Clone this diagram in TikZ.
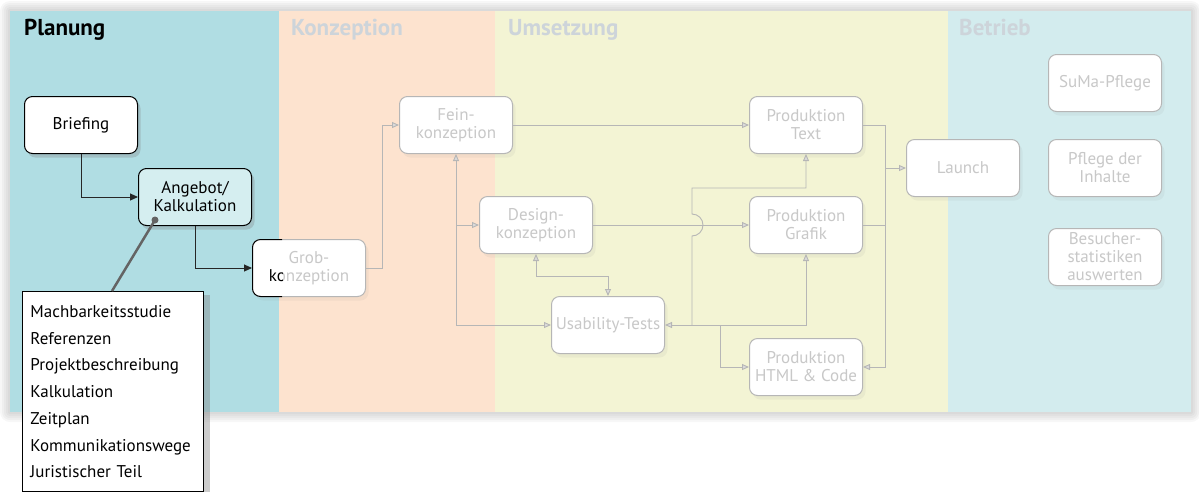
\documentclass[tikz,border=0pt]{standalone}
\usepackage{fontspec}
\setmainfont{PT Sans}
\usetikzlibrary{arrows.meta,shadows}
\definecolor{planbg}{RGB}{176,221,227}
\definecolor{konzbg}{RGB}{253,227,207}
\definecolor{umsbg}{RGB}{243,244,212}
\definecolor{betrbg}{RGB}{211,236,238}
\definecolor{angfill}{RGB}{213,238,240}
\definecolor{fadetext}{RGB}{200,200,200}
\definecolor{fadeline}{RGB}{182,182,182}
\definecolor{fadetitle}{RGB}{205,212,218}
\definecolor{arrowfill}{RGB}{218,218,218}
\definecolor{pincol}{RGB}{100,100,100}
\tikzset{ftip/.tip={Triangle[length=7pt,width=6pt,fill=arrowfill]}}

\begin{document}
\begin{tikzpicture}[x=1pt,y=-1pt,
	box/.style={rounded corners=8pt,minimum width=113pt,minimum height=57pt,align=center,inner sep=2pt,fill=white,font=\fontsize{17}{18}\selectfont},
	dbox/.style={box,draw=black,line width=1pt,text=black,drop shadow={opacity=0.3,shadow xshift=3pt,shadow yshift=-4pt}},
	fbox/.style={box,draw=fadeline,line width=1pt,text=fadetext,drop shadow={opacity=0.08,shadow xshift=3pt,shadow yshift=-4pt}},
	title/.style={anchor=base west,inner sep=0pt,font=\fontsize{23}{25}\selectfont\bfseries},
	darr/.style={draw=black!85,line width=1pt,-{Triangle[length=8pt,width=7pt]}},
	flink/.style={draw=fadeline,line width=0.9pt}]
	\useasboundingbox (0,0) rectangle (1199,491);
	\foreach \g in {2,4,...,10}
		\fill[black,opacity=0.03,rounded corners=\g pt] (10-\g,11-\g) rectangle (1191+\g,412+\g);
	\fill[planbg] (10,11) rectangle (279,412);
	\fill[konzbg] (279,11) rectangle (495,412);
	\fill[umsbg] (495,11) rectangle (948,412);
	\fill[betrbg] (948,11) rectangle (1191,412);
	\node[title] (tplan) at (24,35) {Planung};
	\node[title,text=fadetitle] (tkonz) at (291,35) {Konzeption};
	\node[title,text=fadetitle] (tums) at (508,35) {Umsetzung};
	\node[title,text=fadetitle] (tbetr) at (959,35) {Betrieb};

	\node[dbox] (brief) at (81,125) {Briefing};
	\node[dbox,fill=angfill] (ang) at (195,197) {Angebot/\\Kalkulation};
	\node[fbox] (grob) at (309,268) {Grob-\\konzeption};
	\begin{scope}
		\clip (10,11) rectangle (282,412);
		\node[box,draw=black,line width=1pt,text=black] at (grob) {Grob-\\konzeption};
	\end{scope}
	\node[fbox] (fein) at (456,125) {Fein-\\konzeption};
	\node[fbox] (design) at (536,225) {Design-\\konzeption};
	\node[fbox] (usab) at (608,325) {Usability-Tests};
	\node[fbox] (ptext) at (806,125) {Produktion\\Text};
	\node[fbox] (pgrafik) at (806,225) {Produktion\\Grafik};
	\node[fbox] (phtml) at (806,367) {Produktion\\HTML \& Code};
	\node[fbox] (launch) at (963,168) {Launch};
	\node[fbox] (suma) at (1105,83) {SuMa-Pflege};
	\node[fbox] (pflege) at (1105,168) {Pflege der\\Inhalte};
	\node[fbox] (stats) at (1105,257) {Besucher-\\statistiken\\auswerten};

	\draw[darr] (brief.south) |- (ang.west);
	\draw[darr] (ang.south) |- (grob.west);

	\draw[flink,-ftip] (grob.east) -- ++(16,0) |- (fein.west);
	\draw[flink,-ftip] (fein.east) -- (ptext.west);
	\draw[flink,ftip-ftip] (usab.west) -| (fein.south);
	\draw[flink,-ftip] (fein.south |- design.west) -- (design.west);
	\draw[flink,ftip-ftip] (design.south) -- ++(0,22) -| (usab.north);
	\draw[flink,-ftip] (design.east) -- (pgrafik.west);
	\draw[flink,ftip-ftip] (usab.east) -| (pgrafik.south);
	\coordinate (hop) at (692,325);
	\coordinate (split) at (720,325);
	\coordinate (merge) at (885,168);
	\draw[flink,-ftip] (hop) -- (692,236) arc[start angle=90,end angle=-90,radius=11] -- (692,188) -| (ptext.south);
	\draw[flink,-ftip] (split) |- (phtml.west);
	\draw[flink,-ftip] (ptext.east) -- ++(22,0) |- (phtml.east);
	\draw[flink] (pgrafik.east) -- ++(22,0);
	\draw[flink,-ftip] (merge) -- (launch.west);

	\node[draw=black,line width=1pt,fill=white,anchor=north west,align=left,text width=165pt,inner xsep=8pt,inner ysep=14pt,font=\fontsize{17}{26.7}\selectfont,drop shadow={opacity=0.4,shadow xshift=6pt,shadow yshift=-3pt}] (notes) at (22,291) {Machbarkeitsstudie\\Referenzen\\Projektbeschreibung\\Kalkulation\\Zeitplan\\Kommunikationswege\\Juristischer Teil};
	\coordinate (pin) at (155,220);
	\coordinate (pinend) at (112,291);
	\draw[pincol,line width=2.5pt] (pin) -- (pinend);
	\fill[pincol] (pin) circle (3.5);
\end{tikzpicture}
\end{document}
